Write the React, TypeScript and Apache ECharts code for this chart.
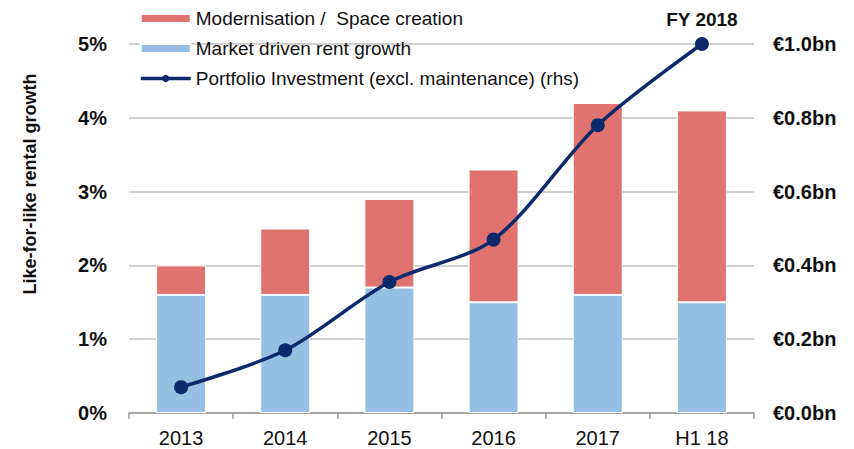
import React, { useEffect, useRef } from "react";
import * as echarts from "echarts";

const categories = ["2013", "2014", "2015", "2016", "2017", "H1 18"];
const marketGrowth = [1.6, 1.6, 1.7, 1.5, 1.6, 1.5];
const modernisation = [0.4, 0.9, 1.2, 1.8, 2.6, 2.6];
const investment = [0.07, 0.17, 0.355, 0.47, 0.78, 1.0];
const lastPointLabel = "FY 2018";
const axisTitle = "Like-for-like rental growth";

export default function App() {
  const ref = useRef<HTMLDivElement>(null);
  useEffect(() => {
    const chart = echarts.init(ref.current!, null, { renderer: "svg" });
    const font = "Arial, 'Liberation Sans', sans-serif";
    chart.setOption({
      animation: false,
      textStyle: { fontFamily: font },
      grid: { left: 129, right: 100, top: 44, bottom: 36, outerBoundsMode: "none", containLabel: false },
      legend: {
        orient: "vertical",
        left: 134,
        top: 4,
        itemWidth: 50,
        itemHeight: 9,
        itemGap: 11,
        textStyle: { fontSize: 19, color: "#111", fontFamily: font },
        data: [
          { name: "Modernisation /  Space creation", icon: "rect" },
          { name: "Market driven rent growth", icon: "rect" },
          {
            name: "Portfolio Investment (excl. maintenance) (rhs)",
            lineStyle: { width: 3.5, color: "#0c2a6b" },
          },
        ],
      },
      graphic: [
        {
          type: "text",
          x: 30,
          y: 184,
          rotation: Math.PI / 2,
          style: {
            text: axisTitle,
            font: "bold 18px Arial, 'Liberation Sans', sans-serif",
            fill: "#111",
            align: "center",
            verticalAlign: "middle",
          },
        },
      ],
      xAxis: {
        type: "category",
        data: categories,
        axisLine: { lineStyle: { color: "#999", width: 1.5 } },
        axisTick: { show: true, length: 6, lineStyle: { color: "#999", width: 1.5 } },
        axisLabel: { fontSize: 20, color: "#111", margin: 15, fontFamily: font },
      },
      yAxis: [
        {
          type: "value",
          min: 0,
          max: 5,
          interval: 1,
          axisLabel: {
            formatter: (v: number) => v + "%",
            fontSize: 20,
            fontWeight: "bold",
            color: "#111",
            margin: 22,
            fontFamily: font,
          },
          splitLine: { lineStyle: { color: "#c0c0c0", width: 1.5 } },
          axisLine: { show: false },
          axisTick: { show: false },
        },
        {
          type: "value",
          min: 0,
          max: 1.0,
          interval: 0.2,
          position: "right",
          axisLabel: {
            formatter: (v: number) => "€" + v.toFixed(1) + "bn",
            fontSize: 20,
            fontWeight: "bold",
            color: "#111",
            margin: 19,
            fontFamily: font,
          },
          splitLine: { show: false },
          axisLine: { show: false },
          axisTick: { show: false },
        },
      ],
      series: [
        {
          name: "Market driven rent growth",
          type: "bar",
          stack: "a",
          data: marketGrowth,
          barWidth: "48%",
          itemStyle: { color: "#95bfe3", borderColor: "#fff", borderWidth: 1 },
        },
        {
          name: "Modernisation /  Space creation",
          type: "bar",
          stack: "a",
          data: modernisation,
          barWidth: "48%",
          itemStyle: { color: "#e07370", borderColor: "#fff", borderWidth: 1 },
        },
        {
          name: "Portfolio Investment (excl. maintenance) (rhs)",
          type: "line",
          yAxisIndex: 1,
          data: investment.map((v, i) =>
            i === investment.length - 1
              ? {
                  value: v,
                  label: {
                    show: true,
                    position: "top",
                    formatter: lastPointLabel,
                    fontSize: 19,
                    fontWeight: "bold",
                    color: "#111",
                    distance: 8,
                    fontFamily: font,
                  },
                }
              : v
          ),
          smooth: 0.3,
          symbol: "circle",
          symbolSize: 14,
          lineStyle: { color: "#0c2a6b", width: 3.5 },
          itemStyle: { color: "#0c2a6b" },
          z: 5,
        },
      ],
    });
    return () => chart.dispose();
  }, []);
  return (
    <div
      ref={ref}
      style={{ position: "absolute", left: 0, top: 0, width: 854, height: 449 }}
    />
  );
}
